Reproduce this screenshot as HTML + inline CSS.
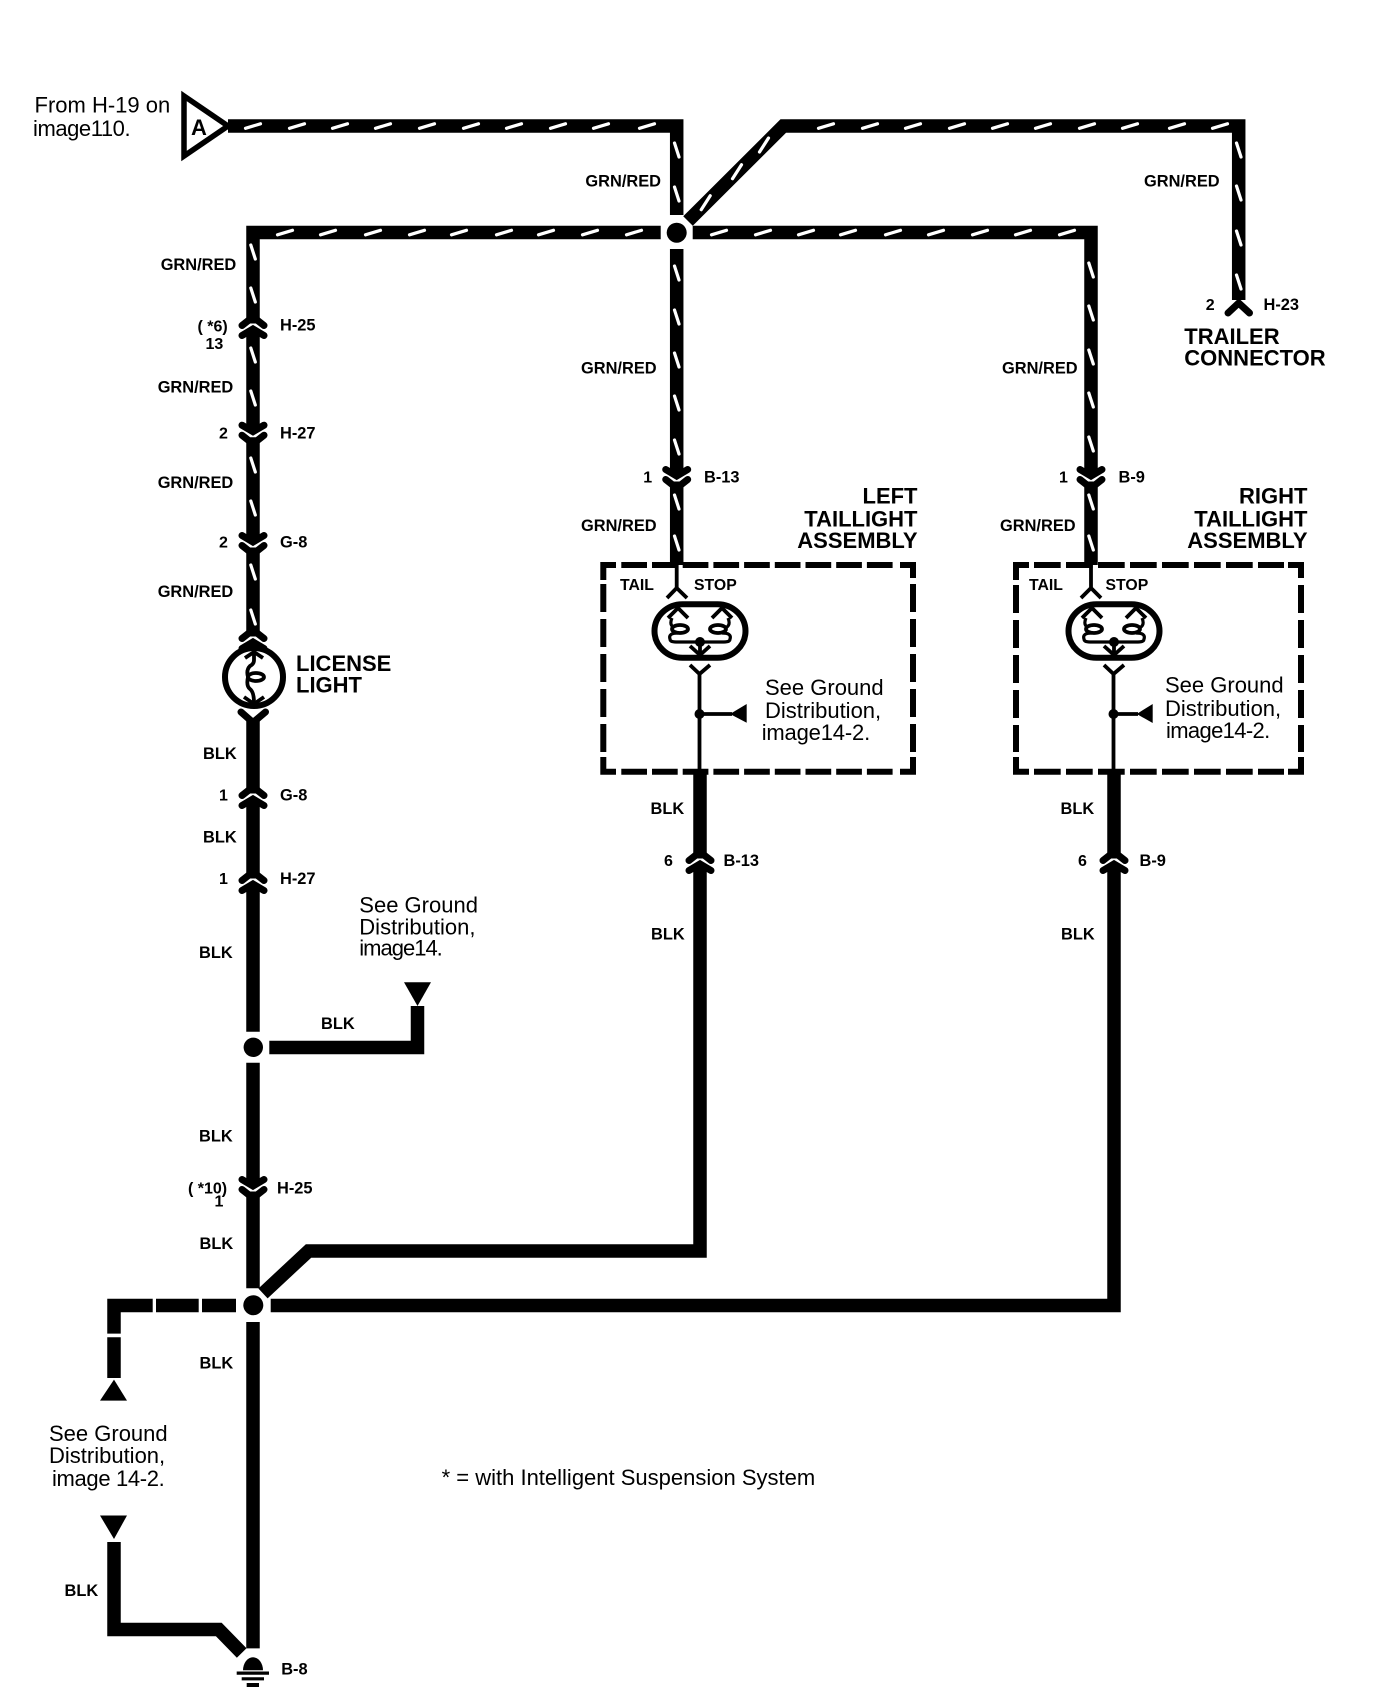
<!DOCTYPE html>
<html><head><meta charset="utf-8"><style>
html,body{margin:0;padding:0;background:#fff}
svg{display:block}
text{font-family:"Liberation Sans",sans-serif;fill:#000}
.l{font-size:16.4px;font-weight:bold}
.s{font-size:16px;font-weight:bold}
.h{font-size:22px;font-weight:bold}
.n{font-size:22px}
.w{fill:none;stroke:#000;stroke-width:13.5;stroke-linejoin:miter}
.t{fill:none;stroke:#000;stroke-width:3.8;stroke-linejoin:round}
.d{fill:none;stroke:#fff;stroke-width:3.2;stroke-linecap:round}
.b{fill:none;stroke:#000;stroke-width:6}
</style></head><body>
<svg width="1392" height="1700" viewBox="0 0 1392 1700" xmlns="http://www.w3.org/2000/svg">
<defs>
<g id="cu">
<path d="M-11 0.5L-4 -5H4L11 0.5" fill="none" stroke="#000" stroke-width="7" stroke-linejoin="round" stroke-linecap="round"/>
<path d="M-11 10.5L0 4L11 10.5" fill="none" stroke="#000" stroke-width="7" stroke-linecap="round"/>
</g>
<g id="cd"><use href="#cu" transform="scale(1,-1)"/></g>
<g id="lamp2">
<rect x="-45.5" y="-26.8" width="91" height="53.6" rx="28" ry="26.8" fill="#fff" stroke="#000" stroke-width="6"/>
<path class="t" d="M-32 -13L-22 -23L-12 -13M12 -13L22 -23L32 -13"/>
<path class="t" style="stroke-width:3.2" d="M-28 -13Q-32 -4 -22 -2M28 -13Q32 -4 22 -2M-22 2Q-32 2 -30 8Q-30 11 -24 11H24Q30 11 30 8Q32 2 22 2"/>
<ellipse cx="-20" cy="-2" rx="8" ry="4" fill="#fff" stroke="#000" stroke-width="3.8"/>
<ellipse cx="18" cy="-2" rx="8" ry="4" fill="#fff" stroke="#000" stroke-width="3.8"/>
<circle cx="0" cy="11" r="5"/>
<path class="t" d="M0 11V23M-10 15L0 24L10 15"/>
</g>
</defs>

<!-- Source triangle -->
<path d="M184 96L228 126L184 156Z" fill="#fff" stroke="#000" stroke-width="5.5"/>

<!-- GRN/RED wires -->
<path class="w" d="M228 126H676.7V215"/>
<path class="w" d="M688 221L783.3 126H1238.7V300"/>
<path class="w" d="M253 320V232.5H660.7"/>
<path class="w" d="M692.7 232.5H1091V475"/>
<path class="w" d="M1091 485V565"/>
<path class="w" d="M676.7 249V475"/><path class="w" d="M676.7 485V565"/>
<path class="w" d="M253 330V430.7"/><path class="w" d="M253 440.7V541"/><path class="w" d="M253 551V633"/>
<path d="M1228 313L1238.7 303L1249.5 313" fill="none" stroke="#000" stroke-width="7" stroke-linecap="round"/>

<!-- BLK wires -->
<path class="w" d="M253 720V790"/><path class="w" d="M253 800V875"/><path class="w" d="M253 885V1031.7"/>
<path class="w" d="M253 1062.7V1185"/><path class="w" d="M253 1195V1288.3"/><path class="w" d="M253 1322V1648.4"/>
<path class="w" d="M269.3 1047.5H417.5V1006"/>
<path class="w" d="M700 770V855"/>
<path class="w" d="M700 865V1251H308.5L263 1293.4"/>
<path class="w" d="M1114 770V855"/>
<path class="w" d="M1114 865V1305.5H270.7"/>
<path class="w" d="M236 1305.5H114V1378"/>
<path d="M152.7 1298h3.3v15h-3.3zM198.7 1298h3.3v15h-3.3zM106 1333.6h16v3.6h-16z" fill="#fff"/>
<path class="w" d="M114 1542V1629.5H218.8L241.7 1653"/>
<path d="M241 712L253 722.5L265.5 712" fill="none" stroke="#000" stroke-width="7" stroke-linecap="round"/>

<!-- Connectors -->
<use href="#cu" x="253" y="325"/>
<use href="#cd" transform="translate(253,435.7)"/>
<use href="#cd" transform="translate(253,546)"/>
<use href="#cu" x="253" y="638"/>
<use href="#cu" x="253" y="795"/>
<use href="#cu" x="253" y="880"/>
<use href="#cd" transform="translate(253,1190)"/>
<use href="#cd" transform="translate(676.7,480)"/>
<use href="#cd" transform="translate(1091,480)"/>
<use href="#cu" x="700" y="860"/>
<use href="#cu" x="1114" y="860"/>

<!-- Tracer dashes -->
<path class="d" d="M245.5 128.3l15-4.5M289.5 128.3l15-4.5M332.5 128.3l15-4.5M375.5 128.3l15-4.5M419.5 128.3l15-4.5M463.5 128.3l15-4.5M506.5 128.3l15-4.5M550.5 128.3l15-4.5M593.5 128.3l15-4.5M639.5 128.3l15-4.5
M818.5 128.3l15-4.5M862.5 128.3l15-4.5M905.5 128.3l15-4.5M949.5 128.3l15-4.5M992.5 128.3l15-4.5M1035.5 128.3l15-4.5M1079.5 128.3l15-4.5M1122.5 128.3l15-4.5M1169.5 128.3l15-4.5M1212.5 128.3l15-4.5
M277.5 234.8l15-4.5M320.5 234.8l15-4.5M365.5 234.8l15-4.5M409.5 234.8l15-4.5M451.5 234.8l15-4.5M496.5 234.8l15-4.5M538.5 234.8l15-4.5M582.5 234.8l15-4.5M626.5 234.8l15-4.5
M711.5 234.8l15-4.5M755.5 234.8l15-4.5M798.5 234.8l15-4.5M840.5 234.8l15-4.5M885.5 234.8l15-4.5M928.5 234.8l15-4.5M972.5 234.8l15-4.5M1015.5 234.8l15-4.5M1059.5 234.8l15-4.5
M250.8 245l4.5 14M250.8 288l4.5 14M250.8 348l4.5 14M250.8 391l4.5 14M250.8 458l4.5 14M250.8 501l4.5 14M250.8 565l4.5 14M250.8 610l4.5 14
M674.5 143l4.5 14M674.5 187l4.5 14M674.5 266l4.5 14M674.5 310l4.5 14M674.5 353l4.5 14M674.5 396l4.5 14M674.5 440l4.5 14M674.5 495l4.5 14M674.5 536l4.5 14
M1088.8 263l4.5 14M1088.8 306l4.5 14M1088.8 350l4.5 14M1088.8 393l4.5 14M1088.8 437l4.5 14M1088.8 495l4.5 14M1088.8 536l4.5 14
M1236.5 143l4.5 14M1236.5 186l4.5 14M1236.5 231l4.5 14M1236.5 275l4.5 14
M759.5 152l9 -14M732.5 178.7l9 -14M701.2 209.7l9 -14"/>

<!-- Junctions -->
<circle cx="676.7" cy="232.7" r="10"/>
<circle cx="253.3" cy="1047.3" r="9.7"/>
<circle cx="253.3" cy="1305.2" r="10"/>

<!-- Ground -->
<path d="M243 1670.3a10 13 0 0 1 20 0z"/>
<path d="M236.7 1671.5h32.3v3.2h-32.3zM241.7 1677.2h22.3v3.2h-22.3zM246.7 1683h12.3v4h-12.3z"/>

<!-- Triangles -->
<path d="M404 982.3H431L417.5 1006Z"/>
<path d="M114 1379.6L127 1400.6H100Z"/>
<path d="M100 1515.5H127L114 1539Z"/>

<!-- License light -->
<circle cx="254" cy="677" r="29" fill="#fff" stroke="#000" stroke-width="6"/>
<path class="t" d="M254 652V660Q254 664 250 666Q246 670 248 677Q246 686 250 689Q254 692 254 703"/>
<path class="t" d="M245 658L254 652L263 658M244 697L254 704L264 697"/>
<ellipse cx="256" cy="677" rx="8" ry="4" fill="#fff" stroke="#000" stroke-width="3.8"/>

<!-- Left box -->
<path class="b" d="M603.3 580V565H616M900 565H913V578M603.3 757V771.7H616M900 771.7H913V757"/>
<path class="b" stroke-dasharray="25.7 5" d="M621.3 565H895M621.3 771.7H895"/>
<path class="b" stroke-dasharray="28 7" d="M603.3 584V752M913 584V752"/>
<path class="t" d="M676.7 565V588M667 598L676.7 588L687 598"/>
<use href="#lamp2" x="700" y="631"/>
<path class="t" d="M690 665L699.5 674L710 665M699.5 674V771"/>
<circle cx="699.5" cy="714" r="5"/>
<path class="t" d="M699.5 714H732"/>
<path d="M730 714L746.7 704V722.7Z"/>

<!-- Right box -->
<path class="b" d="M1016 580V565H1029M1288 565H1301V578M1016 757V771.7H1029M1288 771.7H1301V757"/>
<path class="b" stroke-dasharray="26.7 5.3" d="M1034 565H1284M1034 771.7H1284"/>
<path class="b" stroke-dasharray="28 7" d="M1016 585V752M1301 585V752"/>
<path class="t" d="M1091 565V588M1081 598L1091 588L1101 598"/>
<use href="#lamp2" x="1114" y="631"/>
<path class="t" d="M1104 665L1113.5 674L1124 665M1113.5 674V771"/>
<circle cx="1113.5" cy="714" r="5"/>
<path class="t" d="M1113.5 714H1138"/>
<path d="M1136.7 714L1152.7 704V723Z"/>

<!-- Text: normal -->
<text class="n" x="34.5" y="112.7">From H-19 on</text>
<text class="n" x="33" y="136" textLength="97.6">image110.</text>
<text x="191" y="135" style="font-size:22px;font-weight:bold">A</text>
<text class="n" x="359.3" y="912.3">See Ground</text>
<text class="n" x="359.3" y="934.3">Distribution,</text>
<text class="n" x="359.3" y="955.7" textLength="83.5">image14.</text>
<text class="n" x="765" y="695">See Ground</text>
<text class="n" x="765" y="718">Distribution,</text>
<text class="n" x="761.7" y="740" textLength="108.5">image14-2.</text>
<text class="n" x="1165" y="692.7">See Ground</text>
<text class="n" x="1165" y="716">Distribution,</text>
<text class="n" x="1166" y="738" textLength="104.2">image14-2.</text>
<text class="n" x="49" y="1441">See Ground</text>
<text class="n" x="49" y="1463">Distribution,</text>
<text class="n" x="52" y="1486" textLength="112.8">image 14-2.</text>
<text x="441.6" y="1485" style="font-size:22px">* = with Intelligent Suspension System</text>

<!-- Text: big bold -->
<text class="h" x="296" y="671">LICENSE</text>
<text class="h" x="296" y="692.7">LIGHT</text>
<text class="h" x="1184.3" y="344">TRAILER</text>
<text class="h" x="1184.3" y="365.7">CONNECTOR</text>
<g text-anchor="end">
<text class="h" x="917.5" y="503.3" >LEFT</text>
<text class="h" x="917.5" y="526.7">TAILLIGHT</text>
<text class="h" x="917.5" y="548">ASSEMBLY</text>
<text class="h" x="1307.5" y="503.3">RIGHT</text>
<text class="h" x="1307.5" y="526.7">TAILLIGHT</text>
<text class="h" x="1307.5" y="548">ASSEMBLY</text>
</g>

<!-- Text: wire labels -->
<text class="l" x="585.4" y="186.7">GRN/RED</text>
<text class="l" x="160.7" y="270">GRN/RED</text>
<text class="l" x="157.7" y="392.7">GRN/RED</text>
<text class="l" x="157.7" y="488">GRN/RED</text>
<text class="l" x="157.7" y="597">GRN/RED</text>
<text class="l" x="581" y="373.3">GRN/RED</text>
<text class="l" x="1002" y="373.3">GRN/RED</text>
<text class="l" x="581" y="531">GRN/RED</text>
<text class="l" x="1000" y="531">GRN/RED</text>
<text class="l" x="1144" y="186.7">GRN/RED</text>
<text class="l" x="203" y="759">BLK</text>
<text class="l" x="203" y="842.7">BLK</text>
<text class="l" x="199" y="958">BLK</text>
<text class="l" x="321" y="1029">BLK</text>
<text class="l" x="199" y="1141.7">BLK</text>
<text class="l" x="199.5" y="1248.8">BLK</text>
<text class="l" x="199.5" y="1368.4">BLK</text>
<text class="l" x="64.5" y="1596">BLK</text>
<text class="l" x="650.5" y="814">BLK</text>
<text class="l" x="1060.5" y="814">BLK</text>
<text class="l" x="651" y="939.3">BLK</text>
<text class="l" x="1061" y="939.3">BLK</text>

<!-- Text: connector labels -->
<text class="s" x="197.5" y="331.7">( *6)</text>
<text class="s" x="205.5" y="349">13</text>
<text class="l" x="280" y="330.7">H-25</text>
<text class="s" x="219" y="438.3">2</text>
<text class="l" x="280" y="438.3">H-27</text>
<text class="s" x="219" y="547.7">2</text>
<text class="l" x="280" y="547.7">G-8</text>
<text class="s" x="219" y="800.7">1</text>
<text class="l" x="280" y="800.7">G-8</text>
<text class="s" x="219" y="884">1</text>
<text class="l" x="280" y="884">H-27</text>
<text class="s" x="188" y="1193.7">( *10)</text>
<text class="s" x="214.5" y="1206.5">1</text>
<text class="l" x="277" y="1193.7">H-25</text>
<text class="l" x="281.2" y="1674.4">B-8</text>
<text class="s" x="1205.7" y="310">2</text>
<text class="l" x="1263.5" y="310">H-23</text>
<text class="s" x="643.3" y="482.3">1</text>
<text class="l" x="704" y="482.3">B-13</text>
<text class="s" x="1059" y="482.3">1</text>
<text class="l" x="1118.5" y="482.3">B-9</text>
<text class="s" x="664" y="866">6</text>
<text class="l" x="723.5" y="866">B-13</text>
<text class="s" x="1078" y="866">6</text>
<text class="l" x="1139.5" y="866">B-9</text>
<text class="l" style="font-size:15.8px" x="620" y="590">TAIL</text>
<text class="l" style="font-size:15.8px" x="694" y="590">STOP</text>
<text class="l" style="font-size:15.8px" x="1029" y="590">TAIL</text>
<text class="l" style="font-size:15.8px" x="1105.5" y="590">STOP</text>
</svg>
</body></html>
